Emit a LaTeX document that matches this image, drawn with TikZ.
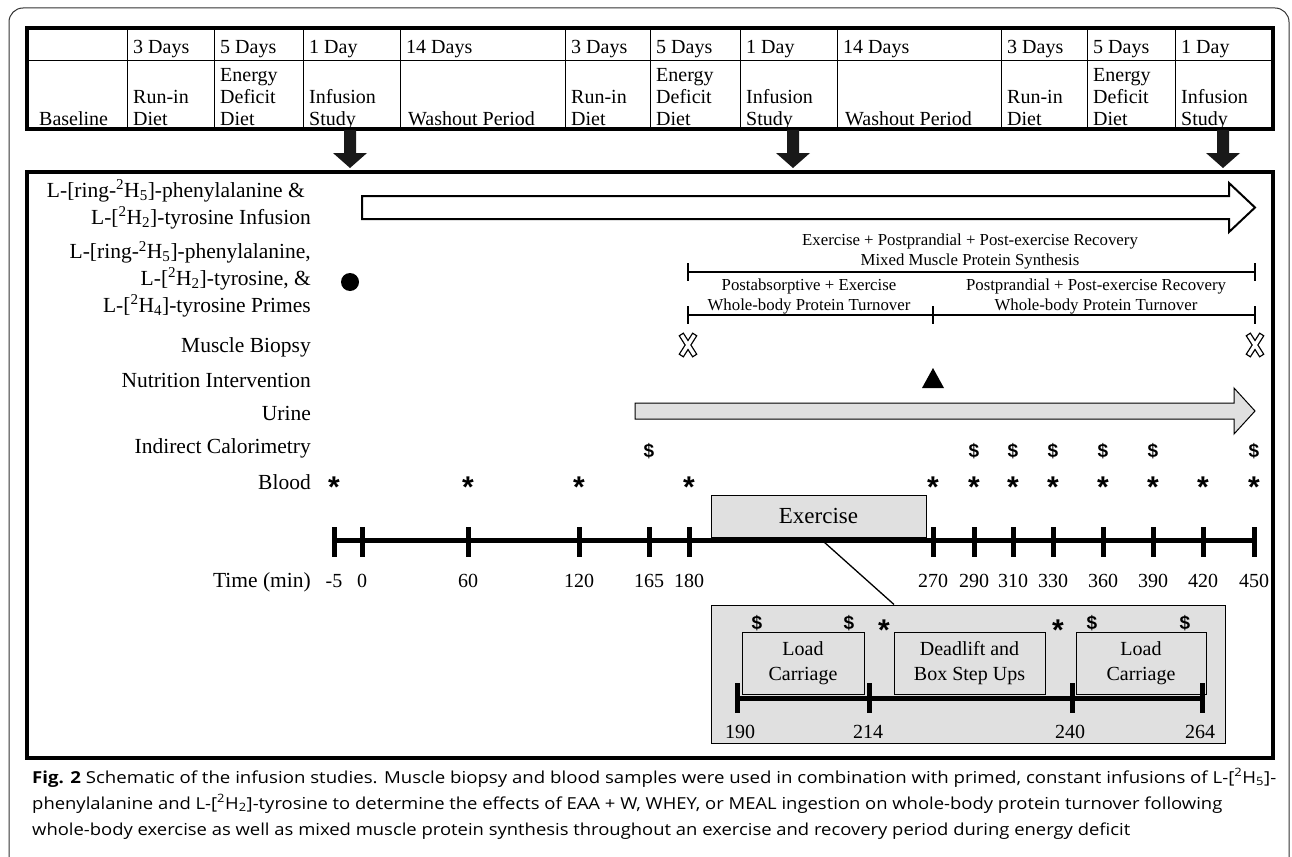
\documentclass[tikz,border=0pt]{standalone}
\usepackage{fontspec}
\usepackage{graphicx}
\setmainfont{Liberation Serif}
\newfontfamily\symfont{Liberation Sans}
\newfontfamily\capfont{Open Sans}
\newcommand\tabfont{\fontsize{20}{21.7}\selectfont}
\newcommand\lblfont{\fontsize{21.5}{26.6}\selectfont}
\newcommand\brfont{\fontsize{16.8}{20}\selectfont}
\newcommand\supx[1]{\textsuperscript{#1}}
\newcommand\capline[2]{\resizebox{#1}{\height}{#2}}
\tikzset{
  cell/.style={anchor=base west,inner sep=0pt,align=left,font=\tabfont},
  lbl/.style={anchor=base east,inner sep=0pt,align=right,font=\lblfont},
  tlab/.style={anchor=base,inner sep=0pt,font=\fontsize{20}{22}\selectfont},
  brt/.style={anchor=base,inner sep=0pt,align=center,font=\brfont},
  astk/.style={anchor=base,inner sep=0pt,font=\symfont\bfseries\fontsize{30}{30}\selectfont},
  dol/.style={anchor=base,inner sep=0pt,font=\symfont\bfseries\fontsize{19}{19}\selectfont},
  graybox/.style={draw=black,fill=black!12,line width=1pt},
  inbox/.style={anchor=center,inner sep=0pt,align=center,font=\fontsize{20}{25}\selectfont},
  downarr/.style={fill=black!90},
  capnode/.style={anchor=base west,inner sep=0pt,font=\capfont\fontsize{16.5}{26}\selectfont},
}
\newcommand\biopsyat[2]{%
  \begin{scope}[shift={(#1,#2)}]
    \draw[line width=6pt] (-7,-11) -- (7,11) (7,-11) -- (-7,11);
    \draw[white,line width=3.4pt] (-6.3,-9.9) -- (6.3,9.9) (6.3,-9.9) -- (-6.3,9.9);
  \end{scope}}
\newcommand\downarrowat[1]{%
  \fill[downarr] (#1-6,130) -- (#1+6,130) -- (#1+6,153) -- (#1+17,153) -- (#1,168) -- (#1-17,153) -- (#1-6,153) -- cycle;}
\begin{document}
\begin{tikzpicture}[x=1pt,y=-1pt]
\useasboundingbox (0,0) rectangle (1292,856);
\fill[white] (0,0) rectangle (1292,856);
% outer frame
\begin{scope}
\clip (0,0) rectangle (1292,856);
\draw[line width=1pt,black!80,rounded corners=14pt] (9,8) rectangle (1289,900);
\end{scope}
% ---------- table ----------
\foreach \x in {127,214,303,400,565,650,740,837,1001,1087,1175}
  \draw[line width=0.9pt] (\x,28) -- (\x,131);
\draw[line width=0.9pt] (27,60) -- (1273,60);
\draw[line width=4pt] (27,28) rectangle (1273,129);
\node[cell] (d1) at (133,54) {3 Days};
\node[cell] (d2) at (220,54) {5 Days};
\node[cell] (d3) at (309,54) {1 Day};
\node[cell] (d4) at (406,54) {14 Days};
\node[cell] (d5) at (571,54) {3 Days};
\node[cell] (d6) at (656,54) {5 Days};
\node[cell] (d7) at (746,54) {1 Day};
\node[cell] (d8) at (843,54) {14 Days};
\node[cell] (d9) at (1007,54) {3 Days};
\node[cell] (d10) at (1093,54) {5 Days};
\node[cell] (d11) at (1181,54) {1 Day};
\node[cell] (p0) at (39,125) {Baseline};
\node[cell] (p1) at (133,125) {Run-in\\Diet};
\node[cell] (p2) at (220,125) {Energy\\Deficit\\Diet};
\node[cell] (p3) at (309,125) {Infusion\\Study};
\node[cell] (p4) at (408,125) {Washout Period};
\node[cell] (p5) at (571,125) {Run-in\\Diet};
\node[cell] (p6) at (656,125) {Energy\\Deficit\\Diet};
\node[cell] (p7) at (746,125) {Infusion\\Study};
\node[cell] (p8) at (845,125) {Washout Period};
\node[cell] (p9) at (1007,125) {Run-in\\Diet};
\node[cell] (p10) at (1093,125) {Energy\\Deficit\\Diet};
\node[cell] (p11) at (1181,125) {Infusion\\Study};
% down arrows
\downarrowat{350}
\downarrowat{793}
\downarrowat{1223}
% ---------- main box ----------
\draw[line width=4pt] (27,172) rectangle (1273,758);
% left labels
\node[lbl] (l1) at (311,224) {L-[ring-\supx{2}H\textsubscript{5}]-phenylalanine \&\hspace*{6pt}\\L-[\supx{2}H\textsubscript{2}]-tyrosine Infusion};
\node[lbl] (l2) at (311,312) {L-[ring-\supx{2}H\textsubscript{5}]-phenylalanine,\\L-[\supx{2}H\textsubscript{2}]-tyrosine, \&\\L-[\supx{2}H\textsubscript{4}]-tyrosine Primes};
\node[lbl] (l3) at (311,352) {Muscle Biopsy};
\node[lbl] (l4) at (311,387) {Nutrition Intervention};
\node[lbl] (l5) at (311,420) {Urine};
\node[lbl] (l6) at (311,453) {Indirect Calorimetry};
\node[lbl] (l7) at (311,489) {Blood};
% infusion arrow
\draw[line width=2pt,fill=white,line join=miter] (362,196) -- (1229,196) -- (1229,183) -- (1255,207.5) -- (1229,232) -- (1229,219) -- (362,219) -- cycle;
% prime dot
\fill (350,282) circle (9);
% brackets
\node[brt] (b1) at (970,265.5) {Exercise + Postprandial + Post-exercise Recovery\\Mixed Muscle Protein Synthesis};
\draw[line width=1.6pt] (688,272) -- (1255,272) (688,263) -- (688,281) (1255,263) -- (1255,281);
\node[brt] (b2) at (809,310.5) {Postabsorptive + Exercise\\Whole-body Protein Turnover};
\node[brt] (b3) at (1096,310.5) {Postprandial + Post-exercise Recovery\\Whole-body Protein Turnover};
\draw[line width=1.6pt] (688,315) -- (1255,315) (688,306) -- (688,324) (933,306) -- (933,324) (1255,306) -- (1255,324);
% biopsies
\biopsyat{688}{345}
\biopsyat{1255}{345}
% nutrition
\fill (922,388) -- (944,388) -- (933,368) -- cycle;
% urine arrow
\draw[line width=1pt,fill=black!12] (635,403) -- (1234,403) -- (1234,388) -- (1255,411) -- (1234,434) -- (1234,419) -- (635,419) -- cycle;
% indirect calorimetry
\foreach \x [count=\i] in {649,974,1013,1053,1103,1153,1254}
  \node[dol] (ic\i) at (\x,457) {\$};
% blood
\foreach \x [count=\i] in {334,468,579,689,933,974,1013,1053,1103,1153,1203,1254}
  \node[astk] (bl\i) at (\x,497) {*};
% timeline
\draw[line width=5pt] (334,540) -- (1254,540);
\foreach \x in {334,362,468,579,649,689,933,974,1013,1053,1103,1153,1203,1254}
  \draw[line width=5pt] (\x,527) -- (\x,557);
\node[lbl] (tm) at (311,587) {Time (min)};
\foreach \x/\t [count=\i] in {334/-5,362/0,468/60,579/120,649/165,689/180,933/270,974/290,1013/310,1053/330,1103/360,1153/390,1203/420,1254/450}
  \node[tlab] (tl\i) at (\x,587) {\t};
% exercise box
\node[graybox,minimum width=215pt,minimum height=42pt,inner sep=0pt,font=\fontsize{23}{25}\selectfont] (ex) at (818.5,516) {Exercise};
\node[graybox,minimum width=514pt,minimum height=138pt,inner sep=0pt] (inset) at (968,674) {};
\draw[line width=1.3pt] (ex.south -| 819,0) -- (inset.north -| 894,0);
% inset contents
\node[graybox,inbox,minimum width=122pt,minimum height=62pt] (lc1) at (803,663) {Load\\Carriage};
\node[graybox,inbox,minimum width=151pt,minimum height=62pt] (dl) at (969.5,663) {Deadlift and\\Box Step Ups};
\node[graybox,inbox,minimum width=130pt,minimum height=62pt] (lc2) at (1141,663) {Load\\Carriage};
\draw[line width=5pt] (737,698) -- (1202,698);
\foreach \x in {737,869,1072,1202}
  \draw[line width=5pt] (\x,683) -- (\x,713);
\node[tlab] (i1) at (740,738.5) {190};
\node[tlab] (i2) at (868,738.5) {214};
\node[tlab] (i3) at (1070,738.5) {240};
\node[tlab] (i4) at (1200,738.5) {264};
\foreach \x [count=\i] in {757,849,1092,1185}
  \node[dol] (id\i) at (\x,629) {\$};
\node[astk] (ia1) at (884,640) {*};
\node[astk] (ia2) at (1058,640) {*};
% caption
\node[capnode] (c1) at (32,783) {\capline{1244pt}{\textbf{Fig. 2} Schematic of the infusion studies. Muscle biopsy and blood samples were used in combination with primed, constant infusions of L-[\supx{2}H\textsubscript{5}]-}};
\node[capnode] (c2) at (32,809) {\capline{1190pt}{phenylalanine and L-[\supx{2}H\textsubscript{2}]-tyrosine to determine the effects of EAA + W, WHEY, or MEAL ingestion on whole-body protein turnover following}};
\node[capnode] (c3) at (32,835) {\capline{1098pt}{whole-body exercise as well as mixed muscle protein synthesis throughout an exercise and recovery period during energy deficit}};
\end{tikzpicture}
\end{document}
